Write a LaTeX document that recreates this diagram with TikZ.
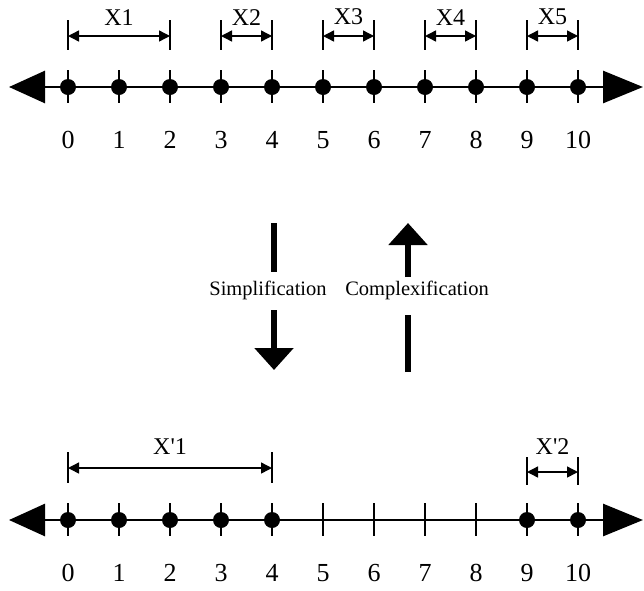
\documentclass[tikz,border=0pt]{standalone}
\usepackage{fontspec}
\setmainfont{Liberation Serif}
\usetikzlibrary{arrows.meta,calc}

\tikzset{
    numline/.style={line width=2.8pt,
        {Triangle[length=36pt,width=32pt]}-{Triangle[length=40pt,width=32pt]}},
    tickmark/.style={line width=2.6pt},
    dotmark/.style={fill,circle,inner sep=0pt,minimum size=16pt},
    spanbar/.style={line width=2.2pt},
    spanarrow/.style={line width=1.4pt,
        {Triangle[length=11pt,width=11pt]}-{Triangle[length=11pt,width=11pt]}},
    shaft/.style={line width=6pt},
    bigarrow/.style={line width=6pt,-{Triangle[length=22pt,width=38pt]}},
    numlabel/.style={font=\fontsize{26}{30}\selectfont,anchor=base,inner sep=0pt},
    spanlabel/.style={font=\fontsize{24}{28}\selectfont,anchor=base,inner sep=0pt},
    steplabel/.style={font=\fontsize{20.5}{24}\selectfont,inner sep=0pt},
}

\begin{document}
\begin{tikzpicture}[x=1pt,y=-1pt]
    \useasboundingbox (0,0) rectangle (644,590);

    % Rectas numéricas con sus marcas.
    \foreach \lin/\yy in {top/87,bot/520}{
        \coordinate (\lin L) at (9,\yy);
        \coordinate (\lin R) at (643,\yy);
        \draw[numline] (\lin L) -- (\lin R);
        \foreach \i in {0,...,10}{
            \coordinate (\lin\i) at ({68+51*\i},\yy);
            \draw[tickmark] ([yshift=17pt]\lin\i) -- ([yshift=-16pt]\lin\i);
            \node[numlabel] (\lin n\i) at ([yshift=-61pt]\lin\i) {\i};
        }
    }

    % Puntos de los intervalos.
    \foreach \i in {0,...,10}
        \node[dotmark] (topd\i) at (top\i) {};
    \foreach \i in {0,1,2,3,4,9,10}
        \node[dotmark] (botd\i) at (bot\i) {};

    % Intervalos X.
    \foreach \lin/\a/\b/\txt/\lift/\hi/\lo/\mid in {top/0/2/X1/62/67/37/51,
        top/3/4/X2/62/67/37/51,top/5/6/X3/63/67/37/51,
        top/7/8/X4/62/67/37/51,top/9/10/X5/63/67/37/51,
        bot/0/4/X\textquotesingle 1/66/68/37/52,
        bot/9/10/X\textquotesingle 2/66/63/35/48}{
        \draw[spanbar] ([yshift=\hi pt]\lin\a) -- ([yshift=\lo pt]\lin\a);
        \draw[spanbar] ([yshift=\hi pt]\lin\b) -- ([yshift=\lo pt]\lin\b);
        \draw[spanarrow] ([yshift=\mid pt]\lin\a) -- ([yshift=\mid pt]\lin\b);
        \node[spanlabel] (\lin s\a) at ($(\lin\a)!0.5!(\lin\b)+(0,-\lift)$) {\txt};
    }

    % Flechas de simplificación y complejización.
    \node[steplabel] (simp) at (268,290) {Simplification};
    \node[steplabel] (compl) at (417,290) {Complexification};
    \coordinate (s1) at (274,223);
    \coordinate (s2) at (274,272);
    \coordinate (s3) at (274,310);
    \coordinate (s4) at (274,370);
    \draw[shaft] (s1) -- (s2);
    \draw[bigarrow] (s3) -- (s4);
    \coordinate (c1) at (408,372);
    \coordinate (c2) at (408,315);
    \coordinate (c3) at (408,277);
    \coordinate (c4) at (408,223);
    \draw[shaft] (c1) -- (c2);
    \draw[bigarrow] (c3) -- (c4);
\end{tikzpicture}
\end{document}
